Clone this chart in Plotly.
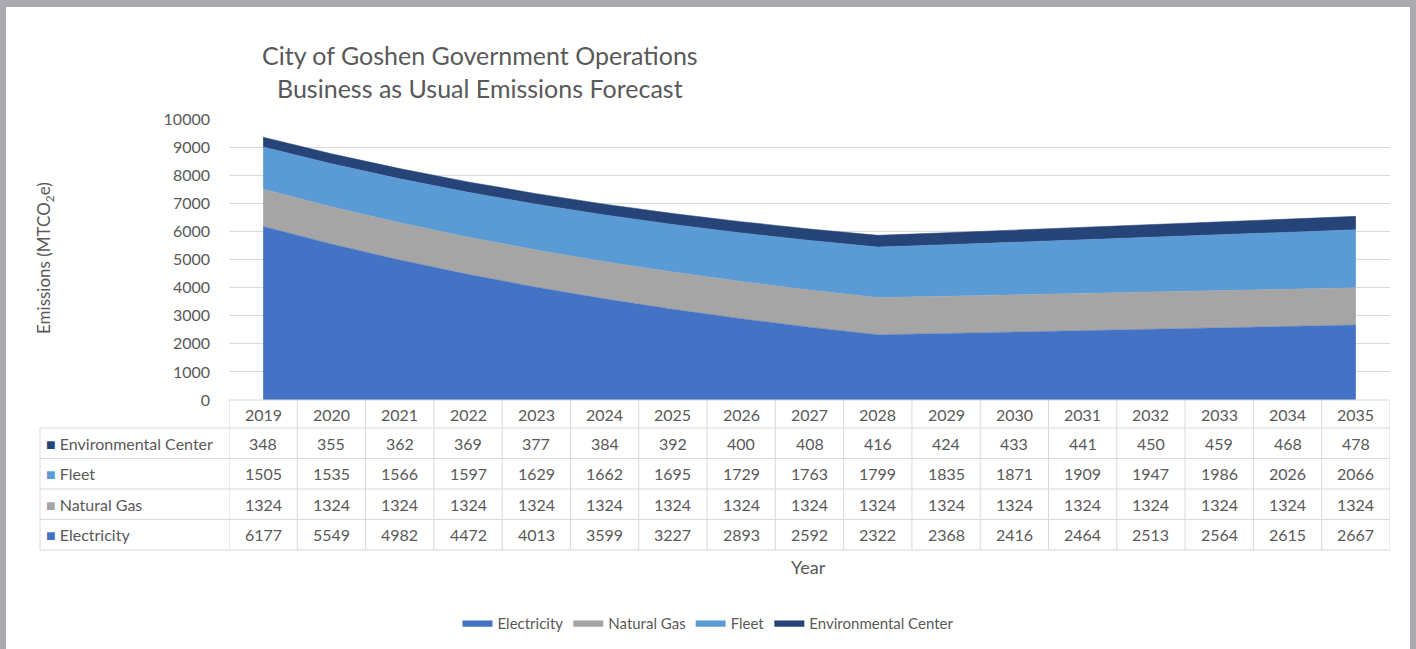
import plotly.graph_objects as go

years = [2019, 2020, 2021, 2022, 2023, 2024, 2025, 2026, 2027, 2028, 2029, 2030, 2031, 2032, 2033, 2034, 2035]
electricity = [6177, 5549, 4982, 4472, 4013, 3599, 3227, 2893, 2592, 2322, 2368, 2416, 2464, 2513, 2564, 2615, 2667]
natural_gas = [1324, 1324, 1324, 1324, 1324, 1324, 1324, 1324, 1324, 1324, 1324, 1324, 1324, 1324, 1324, 1324, 1324]
fleet = [1505, 1535, 1566, 1597, 1629, 1662, 1695, 1729, 1763, 1799, 1835, 1871, 1909, 1947, 1986, 2026, 2066]
env_center = [348, 355, 362, 369, 377, 384, 392, 400, 408, 416, 424, 433, 441, 450, 459, 468, 478]

series_names = ["Electricity", "Natural Gas", "Fleet", "Environmental Center"]
series_values = [electricity, natural_gas, fleet, env_center]
colors = ["#4472C4", "#A5A5A5", "#5B9BD5", "#264478"]

W, H = 1416, 649
FONT = "Lato"
TXT = "#595959"
GRID = "#d9d9d9"
CLEAR = "rgba(0,0,0,0)"

def px_x(p):
    return p / W

def px_y(p):
    return 1 - p / H

fig = go.Figure()

for name, vals, col in zip(series_names, series_values, colors):
    fig.add_trace(go.Scatter(
        x=years, y=vals, name=name, stackgroup="one", mode="lines",
        line=dict(color=col, width=0.5), fillcolor=col,
    ))

plot_x0, plot_x1 = 229, 1390
plot_y0, plot_y1 = 119, 400
table_x0 = 40
header_bottom = 428
row_h = 30.5
row_order = [3, 2, 1, 0]  # Environmental Center, Fleet, Natural Gas, Electricity
table_bottom = header_bottom + row_h * len(row_order)

shapes = [dict(
    type="rect", xref="paper", yref="paper",
    x0=px_x(6), x1=px_x(1410), y0=px_y(H + 5), y1=px_y(7),
    fillcolor="white", line=dict(width=0), layer="below",
)]
annotations = []
line_style = dict(color=GRID, width=1)

shapes.append(dict(type="line", xref="paper", yref="paper",
                   x0=px_x(plot_x0), x1=px_x(plot_x1), y0=px_y(plot_y1), y1=px_y(plot_y1), line=line_style))
for r in range(len(row_order) + 1):
    yy = header_bottom + r * row_h
    shapes.append(dict(type="line", xref="paper", yref="paper",
                       x0=px_x(table_x0), x1=px_x(plot_x1), y0=px_y(yy), y1=px_y(yy), line=line_style))
for yr in years:
    shapes.append(dict(type="line", xref="x", yref="paper",
                       x0=yr - 0.5, x1=yr - 0.5, y0=px_y(plot_y1), y1=px_y(table_bottom), line=line_style))
shapes.append(dict(type="line", xref="x", yref="paper",
                   x0=years[-1] + 0.5, x1=years[-1] + 0.5, y0=px_y(plot_y1), y1=px_y(table_bottom), line=line_style))
shapes.append(dict(type="line", xref="paper", yref="paper",
                   x0=px_x(table_x0), x1=px_x(table_x0), y0=px_y(header_bottom), y1=px_y(table_bottom), line=line_style))

cell_font = dict(family=FONT, size=16, color=TXT)
for yr in years:
    annotations.append(dict(text=str(yr), xref="x", yref="paper", x=yr, y=px_y((plot_y1 + header_bottom) / 2),
                            xanchor="center", yanchor="middle", showarrow=False, font=cell_font))
for r, si in enumerate(row_order):
    yc = px_y(header_bottom + (r + 0.5) * row_h)
    annotations.append(dict(
        text="<span style='color:%s'>■</span> %s" % (colors[si], series_names[si]),
        xref="paper", yref="paper", x=px_x(table_x0 + 4), y=yc,
        xanchor="left", yanchor="middle", showarrow=False, font=cell_font))
    for yr, v in zip(years, series_values[si]):
        annotations.append(dict(text=str(v), xref="x", yref="paper", x=yr, y=yc,
                                xanchor="center", yanchor="middle", showarrow=False, font=cell_font))

annotations += [
    dict(text="City of Goshen Government Operations<br>Business as Usual Emissions Forecast",
         xref="paper", yref="paper", x=px_x(480), y=px_y(72), xanchor="center", yanchor="middle",
         showarrow=False, font=dict(family=FONT, size=25, color=TXT), align="center"),
    dict(text="Emissions (MTCO<sub>2</sub>e)", textangle=-90,
         xref="paper", yref="paper", x=px_x(45), y=px_y(258), xanchor="center", yanchor="middle",
         showarrow=False, font=dict(family=FONT, size=17, color=TXT)),
    dict(text="Year", xref="paper", yref="paper", x=px_x(808), y=px_y(567),
         xanchor="center", yanchor="middle", showarrow=False,
         font=dict(family=FONT, size=18, color=TXT)),
]

fig.update_layout(
    width=W, height=H, autosize=False,
    margin=dict(l=0, r=0, t=0, b=0, pad=0, autoexpand=False),
    paper_bgcolor="#a9aaae",
    plot_bgcolor="white",
    font=dict(family=FONT, color=TXT),
    showlegend=True,
    legend=dict(
        orientation="h", x=0.5, xanchor="center", y=px_y(623), yanchor="middle",
        traceorder="normal", font=dict(family=FONT, size=15, color=TXT),
        bgcolor=CLEAR, itemwidth=30,
    ),
    xaxis=dict(
        domain=[px_x(plot_x0), px_x(plot_x1)],
        range=[years[0] - 0.5, years[-1] + 0.5],
        showticklabels=False, showgrid=False, zeroline=False, showline=False,
        fixedrange=True, automargin=False,
    ),
    yaxis=dict(
        domain=[px_y(plot_y1), px_y(plot_y0)],
        range=[0, 10000], dtick=1000, tickformat="d",
        showgrid=True, gridcolor=GRID, gridwidth=1, zeroline=False, showline=False,
        tickfont=dict(family=FONT, size=16, color=TXT),
        ticklabelstandoff=18, automargin=False,
    ),
    shapes=shapes,
    annotations=annotations,
)

fig.write_html("out.html")
